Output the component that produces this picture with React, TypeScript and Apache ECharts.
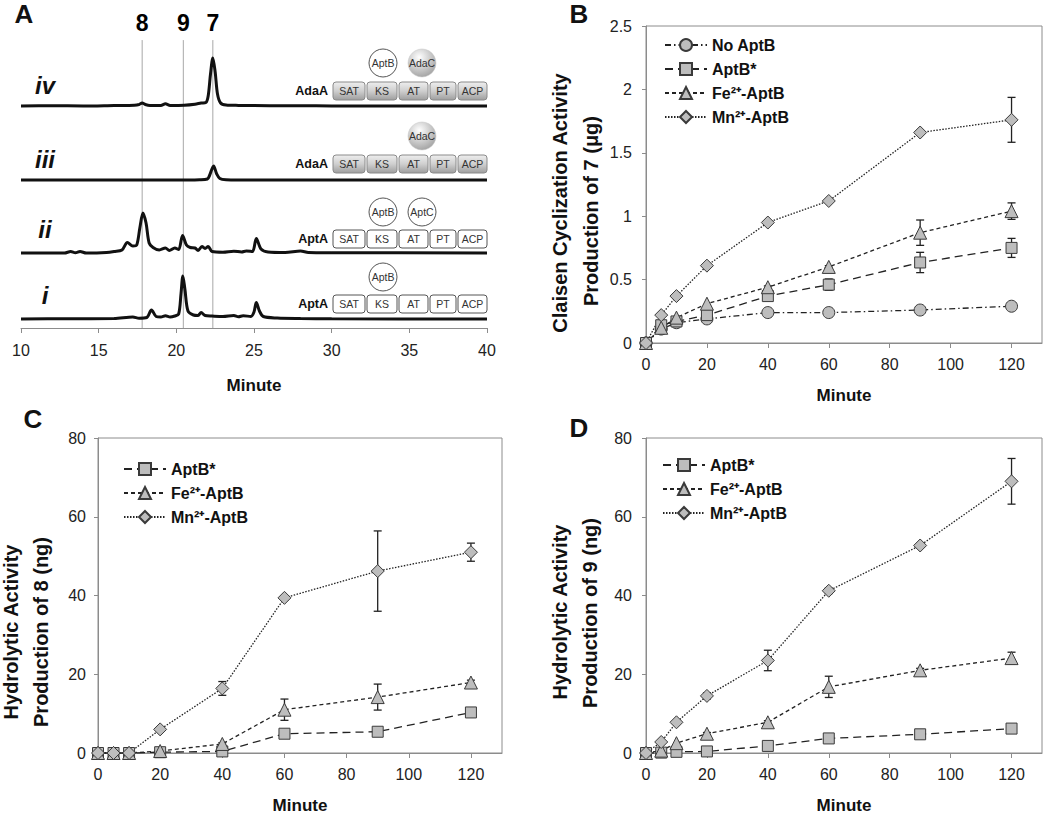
import React, { useEffect, useRef } from 'react';
import * as echarts from 'echarts';

const FONT = '"Liberation Sans", Arial, Helvetica, sans-serif';

// ---------- Panel A: chromatograms [minute, signal] ----------
const traceIV = [
  [10, 0], [12, 0.3], [14, 0], [16, 0.5], [17.3, 0.8], [17.6, 1.5], [17.8, 3], [18.0, 1.5], [18.3, 0.5],
  [19.0, 0.6], [19.3, 2.2], [19.6, 0.6], [20.5, 0.8], [21.2, 1.8], [21.6, 3], [21.9, 3.5], [22.05, 10],
  [22.2, 32], [22.35, 48], [22.5, 34], [22.65, 12], [22.85, 3], [23.2, 1], [24, 0.6], [26, 0.3], [28, 0.3],
  [30, 0], [40, 0],
];
const traceIII = [
  [10, 0], [20, 0], [21.5, 0.3], [22.0, 1], [22.15, 5], [22.4, 14], [22.6, 6], [22.8, 1.5], [23.2, 0.3],
  [25, 0], [40, 0],
];
const traceII = [
  [10, 0], [12.8, 0], [13.2, 1.5], [13.5, 0.3], [13.8, 1.5], [14.2, 0], [15.5, 0.5], [16.0, 1.5], [16.5, 3],
  [16.85, 10.5], [17.2, 7], [17.45, 8], [17.65, 25], [17.85, 40], [18.05, 30], [18.25, 10], [18.5, 5.5],
  [18.9, 3], [19.3, 5], [19.55, 2.5], [19.9, 5], [20.15, 3.5], [20.4, 17.5], [20.65, 8], [20.9, 5.5],
  [21.2, 5], [21.4, 2.5], [21.65, 6.5], [21.85, 4.5], [22.05, 6.5], [22.3, 1.5], [23, 0.8], [23.7, 1.8],
  [24.2, 1], [24.5, 2], [24.9, 1.5], [25.15, 14.5], [25.45, 4], [25.9, 1], [27, 0.5], [28, 2], [28.5, 0.5],
  [30, 0.3], [40, 0],
];
const traceI = [
  [10, 0], [13, 0.3], [16, 0.5], [17.2, 2], [17.6, 0.8], [18.1, 1.5], [18.4, 9], [18.7, 2.5], [19.0, 2],
  [19.3, 3.3], [19.6, 2], [19.9, 3], [20.15, 5], [20.3, 25], [20.42, 43], [20.55, 30], [20.75, 8], [21.1, 4],
  [21.4, 3.5], [21.6, 6.5], [21.85, 3.5], [22.3, 3], [23, 2.5], [23.7, 3.5], [24.0, 2.3], [24.3, 3.3],
  [24.8, 2.5], [25.0, 7], [25.15, 16.5], [25.35, 8], [25.6, 2.5], [26.5, 1], [28, 0.5], [30, 0.2], [40, 0],
];
const aTicks = [10, 15, 20, 25, 30, 35, 40];
const peakMinutes = [17.8, 20.45, 22.35];
const peakLabels = ['8', '9', '7'];
const traceLabels = ['iv', 'iii', 'ii', 'i'];
const domainNames = ['SAT', 'KS', 'AT', 'PT', 'ACP'];

// ---------- Panels B–D ----------
const minutes = [0, 5, 10, 20, 40, 60, 90, 120];
const timeTicks = [0, 20, 40, 60, 80, 100, 120];
const seriesNames = ['No AptB', 'AptB*', 'Fe²⁺-AptB', 'Mn²⁺-AptB'];

// B: production of 7 (µg)
const bNoAptB = [0, 0.11, 0.16, 0.19, 0.24, 0.24, 0.26, 0.29];
const bAptBStar = [0, 0.14, 0.17, 0.22, 0.37, 0.46, 0.635, 0.75];
const bFe = [0, 0.12, 0.2, 0.31, 0.44, 0.6, 0.87, 1.04];
const bMn = [0, 0.22, 0.37, 0.61, 0.95, 1.12, 1.66, 1.76];
const bAptBStarErr = [0, 0, 0, 0, 0.02, 0.045, 0.08, 0.075];
const bFeErr = [0, 0, 0, 0, 0.01, 0.01, 0.1, 0.065];
const bMnErr = [0, 0, 0, 0, 0.01, 0.01, 0.01, 0.177];

// C: production of 8 (ng)
const cAptBStar = [0, 0, 0, 0.2, 0.4, 4.9, 5.4, 10.3];
const cFe = [0, 0, 0, 0.5, 2.3, 11.0, 14.2, 17.9];
const cMn = [0, 0, 0, 6.0, 16.4, 39.4, 46.2, 51.0];
const cFeErr = [0, 0, 0, 0, 0.3, 2.7, 3.3, 0.6];
const cMnErr = [0, 0, 0, 0.3, 1.75, 0.5, 10.2, 2.3];

// D: production of 9 (ng)
const dAptBStar = [0, 0.1, 0.3, 0.4, 1.8, 3.7, 4.75, 6.2];
const dFe = [0, 0.6, 2.5, 4.9, 7.8, 16.8, 21.0, 24.1];
const dMn = [0, 2.8, 7.8, 14.5, 23.5, 41.2, 52.7, 69.0];
const dFeErr = [0, 0, 0, 0.3, 0.4, 2.7, 0.5, 1.5];
const dMnErr = [0, 0, 0, 0.8, 2.6, 0.7, 0.5, 5.8];

const markerStyles: Record<string, any> = {
  'No AptB': { symbol: 'circle', size: 12, dash: [6, 3, 1.5, 3] },
  'AptB*': { symbol: 'rect', size: 11, dash: [8, 5] },
  'Fe²⁺-AptB': { symbol: 'triangle', size: 13, dash: [4, 3] },
  'Mn²⁺-AptB': { symbol: 'diamond', size: 13, dash: [1.5, 1.5] },
};

function lineSeries(name: string, vals: number[], idx: number) {
  const s = markerStyles[name];
  return {
    type: 'line', name, xAxisIndex: idx, yAxisIndex: idx,
    data: minutes.map((m, i) => [m, vals[i]]),
    symbol: s.symbol, symbolSize: s.size, showSymbol: true, clip: false, z: 3,
    itemStyle: { color: '#bdbdbd', borderColor: '#3a3a3a', borderWidth: 1 },
    lineStyle: { color: '#222', width: 1.3, type: s.dash },
  };
}

function errSeries(pairs: [number[], number[]][], idx: number) {
  const data: number[][] = [];
  pairs.forEach(([v, e]) => minutes.forEach((m, i) => { if (e[i] > 0) data.push([m, v[i], e[i]]); }));
  return {
    type: 'custom', xAxisIndex: idx, yAxisIndex: idx, data, z: 2, clip: false, silent: true,
    encode: { x: 0, y: 1 },
    renderItem: (_p: any, api: any) => {
      const x = api.value(0), y = api.value(1), e = api.value(2);
      const t = api.coord([x, y + e]);
      const b = api.coord([x, y - e]);
      const c = 4;
      const st = { stroke: '#222', lineWidth: 1.3 };
      return {
        type: 'group', children: [
          { type: 'line', shape: { x1: t[0], y1: t[1], x2: b[0], y2: b[1] }, style: st },
          { type: 'line', shape: { x1: t[0] - c, y1: t[1], x2: t[0] + c, y2: t[1] }, style: st },
          { type: 'line', shape: { x1: b[0] - c, y1: b[1], x2: b[0] + c, y2: b[1] }, style: st },
        ],
      };
    },
  };
}

const axisGray = '#8c8c8c';

function timeXAxis(idx: number, nameGap: number) {
  return {
    type: 'value', gridIndex: idx, min: 0, max: 130,
    axisLine: { show: true, lineStyle: { color: axisGray } },
    axisTick: { show: true, length: 5, lineStyle: { color: axisGray }, customValues: timeTicks },
    axisLabel: { fontSize: 16, color: '#222', margin: 13, fontFamily: FONT, customValues: timeTicks },
    splitLine: { show: false },
    name: 'Minute', nameLocation: 'middle', nameGap,
    nameTextStyle: { fontSize: 17, fontWeight: 'bold', color: '#111', fontFamily: FONT },
  };
}

function valYAxis(idx: number, max: number, interval: number, margin: number) {
  return {
    type: 'value', gridIndex: idx, min: 0, max, interval,
    axisLine: { show: true, lineStyle: { color: axisGray } },
    axisTick: { show: true, length: 4, lineStyle: { color: axisGray } },
    axisLabel: { fontSize: 16, color: '#222', margin, fontFamily: FONT },
    splitLine: { show: false },
  };
}

function txt(text: string, x: number, y: number, size: number, extra: any = {}) {
  return {
    type: 'text', x, y, silent: true, rotation: extra.rotation || 0,
    style: {
      text, fontSize: size, fontFamily: FONT, fill: extra.fill || '#111',
      fontWeight: extra.fontWeight || 'normal', fontStyle: extra.fontStyle || 'normal',
      align: extra.align || 'center', textAlign: extra.align || 'center',
      verticalAlign: 'middle', textVerticalAlign: 'middle',
    },
  };
}

function buildGraphics() {
  const g: any[] = [];
  // panel letters
  [['A', 24, 14], ['B', 579, 14], ['C', 33, 419], ['D', 579, 428]].forEach(([t, x, y]) =>
    g.push(txt(t as string, x as number, y as number, 26, { fontWeight: 'bold' })));
  // roman numerals
  const romanY = [85, 159, 229, 295];
  traceLabels.forEach((t, i) => g.push(txt(t, 45, romanY[i], 24, { fontWeight: 'bold', fontStyle: 'italic' })));
  // y axis titles
  const rot = Math.PI / 2;
  g.push(txt('Claisen Cyclization Activity', 560, 203, 20, { fontWeight: 'bold', rotation: rot }));
  g.push(txt('Production of 7 (μg)', 591, 211, 20, { fontWeight: 'bold', rotation: rot }));
  g.push(txt('Hydrolytic Activity', 11, 632, 20, { fontWeight: 'bold', rotation: rot }));
  g.push(txt('Production of 8 (ng)', 41, 632, 20, { fontWeight: 'bold', rotation: rot }));
  g.push(txt('Hydrolytic Activity', 560, 612, 20, { fontWeight: 'bold', rotation: rot }));
  g.push(txt('Production of 9 (ng)', 590, 613, 20, { fontWeight: 'bold', rotation: rot }));

  // domain diagrams
  const boxes = [[333, 32], [367, 30], [399, 29], [430, 26], [458, 29]];
  const grayFill = {
    type: 'linear', x: 0, y: 0, x2: 0, y2: 1,
    colorStops: [{ offset: 0, color: '#eeeeee' }, { offset: 0.5, color: '#cfcfcf' }, { offset: 1, color: '#9e9e9e' }],
  };
  const ballFill = {
    type: 'radial', x: 0.4, y: 0.3, r: 0.75,
    colorStops: [{ offset: 0, color: '#ffffff' }, { offset: 1, color: '#a0a0a0' }],
  };
  const rows = [
    { label: 'AdaA', gray: true, boxTop: 82, circleY: 63, circles: [['AptB', 383, false], ['AdaC', 422, true]] },
    { label: 'AdaA', gray: true, boxTop: 155, circleY: 136, circles: [['AdaC', 422, true]] },
    { label: 'AptA', gray: false, boxTop: 230, circleY: 212, circles: [['AptB', 383, false], ['AptC', 422, false]] },
    { label: 'AptA', gray: false, boxTop: 295, circleY: 277, circles: [['AptB', 383, false]] },
  ];
  const bh = 18;
  rows.forEach((r) => {
    g.push(txt(r.label, 328, r.boxTop + bh / 2, 12.5, { fontWeight: 'bold', align: 'right' }));
    boxes.forEach(([x, w], i) => {
      g.push({
        type: 'rect', silent: true, shape: { x, y: r.boxTop, width: w, height: bh, r: 3 },
        style: r.gray ? { fill: grayFill, stroke: '#8a8a8a', lineWidth: 1 } : { fill: '#fff', stroke: '#555', lineWidth: 1 },
      });
      g.push(txt(domainNames[i], x + w / 2, r.boxTop + bh / 2, 10.5, { fill: '#333' }));
    });
    r.circles.forEach(([name, cx, gray]) => {
      g.push({
        type: 'circle', silent: true, shape: { cx, cy: r.circleY, r: 14 },
        style: gray ? { fill: ballFill, stroke: '#c4c4c4', lineWidth: 0.5 } : { fill: '#fff', stroke: '#555', lineWidth: 1 },
      });
      g.push(txt(name as string, cx as number, r.circleY, 10.5, { fill: '#333' }));
    });
  });
  return g;
}

function buildOption() {
  const traces = [traceIV, traceIII, traceII, traceI];
  const baselines = [106, 180, 253, 319];
  const grids: any[] = [
    { left: 21, top: 40, width: 466, height: 288 },
    ...baselines.map((b) => ({ left: 21, top: b - 55, width: 466, height: 60 })),
    { left: 646, top: 26, width: 396, height: 317, show: true, borderColor: axisGray, borderWidth: 1 },
    { left: 98, top: 438, width: 404, height: 319, show: true, borderColor: axisGray, borderWidth: 1 },
    { left: 646, top: 438, width: 396, height: 319, show: true, borderColor: axisGray, borderWidth: 1 },
  ];
  const xAxes: any[] = [
    {
      type: 'value', gridIndex: 0, min: 10, max: 40, interval: 5,
      axisLine: { show: true, lineStyle: { color: axisGray } },
      axisTick: { show: true, length: 5, lineStyle: { color: axisGray }, customValues: aTicks },
      axisLabel: { fontSize: 16, color: '#222', margin: 14, fontFamily: FONT, customValues: aTicks },
      splitLine: { show: false },
      name: 'Minute', nameLocation: 'middle', nameGap: 49,
      nameTextStyle: { fontSize: 17, fontWeight: 'bold', color: '#111', fontFamily: FONT },
    },
    ...baselines.map((_b, i) => ({ type: 'value', gridIndex: i + 1, min: 10, max: 40, show: false })),
    timeXAxis(5, 44),
    timeXAxis(6, 44),
    timeXAxis(7, 44),
  ];
  const yAxes: any[] = [
    { type: 'value', gridIndex: 0, min: 0, max: 1, show: false },
    ...baselines.map((_b, i) => ({ type: 'value', gridIndex: i + 1, min: -5, max: 55, show: false })),
    valYAxis(5, 2.5, 0.5, 14),
    valYAxis(6, 80, 20, 12),
    valYAxis(7, 80, 20, 14),
  ];

  const series: any[] = [];
  peakMinutes.forEach((t) => {
    series.push({
      type: 'line', xAxisIndex: 0, yAxisIndex: 0, silent: true, showSymbol: false, symbol: 'none', z: 1,
      lineStyle: { color: '#a8a8a8', width: 1 },
      data: [[t, 0], [t, 1]],
    });
  });
  series.push({
    type: 'scatter', xAxisIndex: 0, yAxisIndex: 0, silent: true, symbolSize: 0.5, z: 5,
    itemStyle: { color: '#ffffff', opacity: 1 },
    data: peakMinutes.map((t, i) => ({ value: [t, 1], name: peakLabels[i] })),
    label: {
      show: true, position: 'top', distance: 5, formatter: (p: any) => p.name, opacity: 1,
      fontSize: 23, fontWeight: 'bold', color: '#000', fontFamily: FONT,
    },
  });
  traces.forEach((tr, i) => {
    series.push({
      type: 'line', xAxisIndex: i + 1, yAxisIndex: i + 1, data: tr, showSymbol: false, symbol: 'none',
      smooth: 0.3, clip: false, silent: true, z: 2,
      lineStyle: { color: '#111', width: 3 },
    });
  });

  // B
  series.push(errSeries([[bAptBStar, bAptBStarErr], [bFe, bFeErr], [bMn, bMnErr]], 5));
  series.push(lineSeries(seriesNames[0], bNoAptB, 5));
  series.push(lineSeries(seriesNames[1], bAptBStar, 5));
  series.push(lineSeries(seriesNames[2], bFe, 5));
  series.push(lineSeries(seriesNames[3], bMn, 5));
  // C
  series.push(errSeries([[cFe, cFeErr], [cMn, cMnErr]], 6));
  series.push(lineSeries(seriesNames[1], cAptBStar, 6));
  series.push(lineSeries(seriesNames[2], cFe, 6));
  series.push(lineSeries(seriesNames[3], cMn, 6));
  // D
  series.push(errSeries([[dFe, dFeErr], [dMn, dMnErr]], 7));
  series.push(lineSeries(seriesNames[1], dAptBStar, 7));
  series.push(lineSeries(seriesNames[2], dFe, 7));
  series.push(lineSeries(seriesNames[3], dMn, 7));

  const legendBase = {
    orient: 'vertical', itemWidth: 42, itemHeight: 15, itemGap: 8, padding: 0, selectedMode: false,
    textStyle: { fontSize: 16, fontWeight: 'bold', color: '#111', fontFamily: FONT },
  };
  const legends = [
    { ...legendBase, data: seriesNames, left: 664, top: 37 },
    { ...legendBase, data: seriesNames.slice(1), left: 123, top: 461 },
    { ...legendBase, data: seriesNames.slice(1), left: 662, top: 457 },
  ];

  return {
    animation: false,
    backgroundColor: '#ffffff',
    textStyle: { fontFamily: FONT },
    grid: grids,
    xAxis: xAxes,
    yAxis: yAxes,
    legend: legends,
    series,
    graphic: buildGraphics(),
  };
}

export default function App() {
  const ref = useRef<HTMLDivElement>(null);
  useEffect(() => {
    if (!ref.current) return;
    const chart = echarts.init(ref.current, null, { renderer: 'svg', width: 1050, height: 815 });
    chart.setOption(buildOption() as any);
    return () => chart.dispose();
  }, []);
  return (
    <div
      ref={ref}
      style={{ position: 'absolute', left: 0, top: 0, width: 1050, height: 815, background: '#fff' }}
    />
  );
}
